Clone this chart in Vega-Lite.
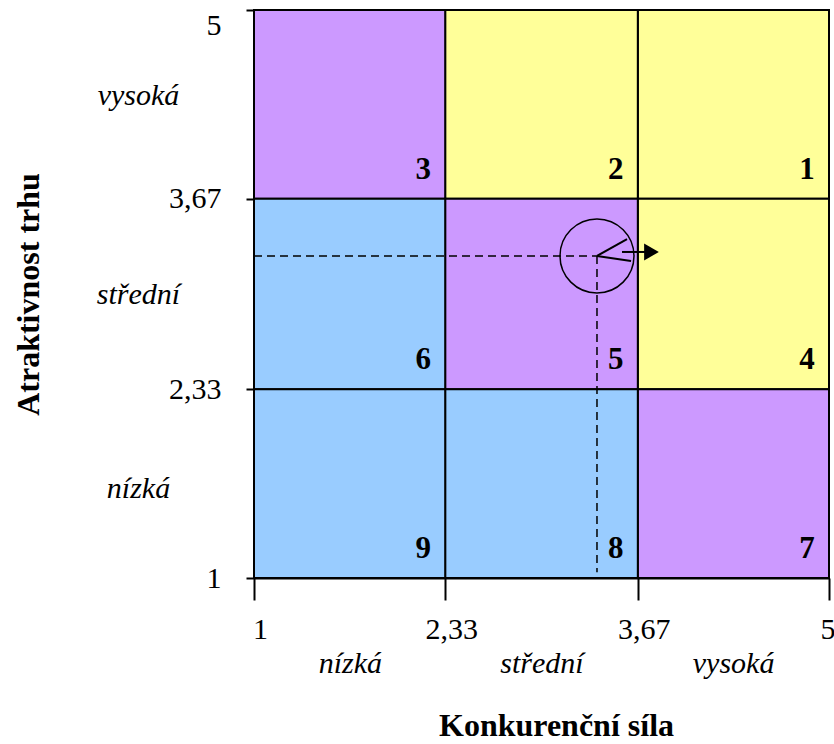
{
  "$schema": "https://vega.github.io/schema/vega-lite/v6.json",
  "width": 575,
  "height": 568,
  "autosize": {"type": "none"},
  "padding": {"left": 254, "top": 10, "right": 5, "bottom": 166},
  "background": "white",
  "config": {
    "view": {"stroke": null},
    "font": "Liberation Serif",
    "axis": {
      "labelFont": "Liberation Serif",
      "titleFont": "Liberation Serif",
      "labelColor": "black",
      "titleColor": "black",
      "domainColor": "black",
      "tickColor": "black",
      "grid": false,
      "labelOverlap": false
    }
  },
  "datasets": {
    "cells": [
      {"cell": 1, "x1": 3.67, "x2": 5, "y1": 3.67, "y2": 5, "zone": "invest"},
      {"cell": 2, "x1": 2.33, "x2": 3.67, "y1": 3.67, "y2": 5, "zone": "invest"},
      {"cell": 3, "x1": 1, "x2": 2.33, "y1": 3.67, "y2": 5, "zone": "select"},
      {"cell": 4, "x1": 3.67, "x2": 5, "y1": 2.33, "y2": 3.67, "zone": "invest"},
      {"cell": 5, "x1": 2.33, "x2": 3.67, "y1": 2.33, "y2": 3.67, "zone": "select"},
      {"cell": 6, "x1": 1, "x2": 2.33, "y1": 2.33, "y2": 3.67, "zone": "harvest"},
      {"cell": 7, "x1": 3.67, "x2": 5, "y1": 1, "y2": 2.33, "zone": "select"},
      {"cell": 8, "x1": 2.33, "x2": 3.67, "y1": 1, "y2": 2.33, "zone": "harvest"},
      {"cell": 9, "x1": 1, "x2": 2.33, "y1": 1, "y2": 2.33, "zone": "harvest"}
    ],
    "segments": [
      {"kind": "guide", "x1": 1, "y1": 3.268, "x2": 3.386, "y2": 3.268},
      {"kind": "guide", "x1": 3.386, "y1": 3.268, "x2": 3.386, "y2": 1.04},
      {"kind": "wedge", "x1": 3.386, "y1": 3.268, "x2": 3.595, "y2": 3.387},
      {"kind": "wedge", "x1": 3.386, "y1": 3.268, "x2": 3.623, "y2": 3.232},
      {"kind": "arrow", "x1": 3.56, "y1": 3.296, "x2": 3.74, "y2": 3.296}
    ],
    "position": [
      {"strength": 3.386, "attractiveness": 3.268}
    ],
    "arrowhead": [
      {"x": 3.765, "y": 3.296}
    ]
  },
  "layer": [
    {
      "data": {"name": "cells"},
      "mark": {"type": "rect", "stroke": "black", "strokeWidth": 2},
      "encoding": {
        "x": {
          "field": "x1",
          "type": "quantitative",
          "scale": {"domain": [1, 5], "nice": false, "zero": false},
          "axis": {
            "orient": "bottom",
            "title": "Konkurenční síla",
            "titleFontSize": 32,
            "titleFontWeight": "bold",
            "titlePadding": 32,
            "titleX": 302,
            "values": [1.667, 3, 4.333],
            "labelExpr": "datum.value < 2 ? 'nízká' : datum.value < 4 ? 'střední' : 'vysoká'",
            "labelFontSize": 30,
            "labelFontStyle": "italic",
            "labelBaseline": "middle",
            "labelAlign": "center",
            "labelPadding": 15,
            "offset": 70,
            "domain": false,
            "ticks": false,
            "tickSize": 0
          }
        },
        "x2": {"field": "x2"},
        "y": {
          "field": "y1",
          "type": "quantitative",
          "scale": {"domain": [1, 5], "nice": false, "zero": false},
          "axis": {
            "orient": "left",
            "title": "Atraktivnost trhu",
            "titleFontSize": 32,
            "titleFontWeight": "bold",
            "titlePadding": 51,
            "values": [1.63, 3.0, 4.4],
            "labelExpr": "datum.value < 2 ? 'nízká' : datum.value < 4 ? 'střední' : 'vysoká'",
            "labelFontSize": 30,
            "labelFontStyle": "italic",
            "labelAlign": "center",
            "labelBaseline": "middle",
            "labelPadding": 16,
            "offset": 100,
            "domain": false,
            "ticks": false,
            "tickSize": 0
          }
        },
        "y2": {"field": "y2"},
        "color": {
          "field": "zone",
          "type": "nominal",
          "scale": {
            "domain": ["invest", "select", "harvest"],
            "range": ["#FFFF99", "#CC99FF", "#99CCFF"]
          },
          "legend": null
        }
      }
    },
    {
      "data": {"name": "cells"},
      "mark": {
        "type": "text",
        "font": "Liberation Serif",
        "fontSize": 31,
        "fontWeight": "bold",
        "align": "center",
        "baseline": "alphabetic",
        "dx": -22,
        "dy": -20,
        "color": "black"
      },
      "encoding": {
        "x": {"field": "x2", "type": "quantitative", "scale": {"domain": [1, 5], "nice": false, "zero": false}, "axis": null},
        "y": {"field": "y1", "type": "quantitative", "scale": {"domain": [1, 5], "nice": false, "zero": false}, "axis": null},
        "text": {"field": "cell", "type": "nominal"}
      }
    },
    {
      "data": {"name": "segments"},
      "transform": [{"filter": "datum.kind == 'guide'"}],
      "mark": {"type": "rule", "color": "black", "strokeWidth": 1.5, "strokeDash": [8, 5]},
      "encoding": {
        "x": {
          "field": "x1",
          "type": "quantitative",
          "scale": {"domain": [1, 5], "nice": false, "zero": false},
          "axis": {
            "orient": "bottom",
            "title": null,
            "values": [1, 2.33, 3.67, 5],
            "labelExpr": "replace(format(datum.value, '.2~f'), '.', ',')",
            "labelFontSize": 30,
            "labelAlign": {"condition": {"test": "datum.value == 5", "value": "right"}, "value": "center"},
            "labelBaseline": "top",
            "labelOffset": 6,
            "labelPadding": 14,
            "tickSize": 22,
            "tickWidth": 2,
            "domainWidth": 2
          }
        },
        "x2": {"field": "x2"},
        "y": {
          "field": "y1",
          "type": "quantitative",
          "scale": {"domain": [1, 5], "nice": false, "zero": false},
          "axis": {
            "orient": "left",
            "title": null,
            "values": [1, 2.33, 3.67, 5],
            "labelExpr": "replace(format(datum.value, '.2~f'), '.', ',')",
            "labelFontSize": 30,
            "labelAlign": "right",
            "labelBaseline": {"condition": {"test": "datum.value == 5", "value": "top"}, "value": "middle"},
            "labelPadding": 25,
            "tickSize": 8,
            "tickWidth": 2,
            "domainWidth": 2
          }
        },
        "y2": {"field": "y2"}
      }
    },
    {
      "data": {"name": "segments"},
      "transform": [{"filter": "datum.kind != 'guide'"}],
      "mark": {"type": "rule", "color": "black", "strokeWidth": 2},
      "encoding": {
        "x": {"field": "x1", "type": "quantitative", "scale": {"domain": [1, 5], "nice": false, "zero": false}, "axis": null},
        "x2": {"field": "x2"},
        "y": {"field": "y1", "type": "quantitative", "scale": {"domain": [1, 5], "nice": false, "zero": false}, "axis": null},
        "y2": {"field": "y2"}
      }
    },
    {
      "data": {"name": "position"},
      "mark": {"type": "point", "shape": "circle", "size": 5476, "filled": false, "stroke": "black", "strokeWidth": 1.5, "opacity": 1},
      "encoding": {
        "x": {"field": "strength", "type": "quantitative", "scale": {"domain": [1, 5], "nice": false, "zero": false}, "axis": null},
        "y": {"field": "attractiveness", "type": "quantitative", "scale": {"domain": [1, 5], "nice": false, "zero": false}, "axis": null}
      }
    },
    {
      "data": {"name": "arrowhead"},
      "mark": {"type": "point", "shape": "triangle-right", "size": 290, "filled": true, "color": "black", "opacity": 1},
      "encoding": {
        "x": {"field": "x", "type": "quantitative", "scale": {"domain": [1, 5], "nice": false, "zero": false}, "axis": null},
        "y": {"field": "y", "type": "quantitative", "scale": {"domain": [1, 5], "nice": false, "zero": false}, "axis": null}
      }
    }
  ],
  "resolve": {
    "scale": {"x": "independent", "y": "independent"},
    "axis": {"x": "independent", "y": "independent"}
  }
}
